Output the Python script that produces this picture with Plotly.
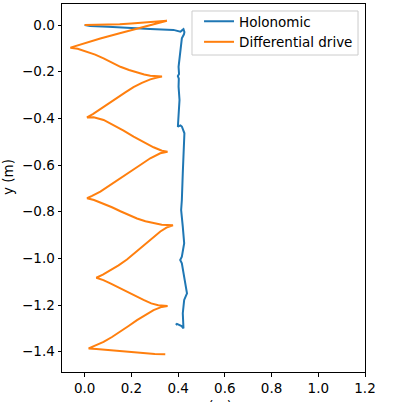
import plotly.graph_objects as go

# Holonomic trajectory (m)
holo_x = [0.0, 0.024, 0.10, 0.167, 0.28, 0.38, 0.41, 0.418, 0.423, 0.427, 0.425, 0.416,
          0.409, 0.402, 0.404, 0.399, 0.403, 0.402, 0.406, 0.402, 0.399, 0.41, 0.416,
          0.427, 0.423, 0.42, 0.416, 0.413, 0.42, 0.426, 0.416, 0.409, 0.416, 0.43,
          0.438, 0.426, 0.42, 0.423, 0.415, 0.395, 0.39]
holo_y = [0.0, -0.004, -0.008, -0.012, -0.017, -0.021, -0.029, -0.022, -0.018, -0.03, -0.04, -0.057,
          -0.107, -0.179, -0.21, -0.219, -0.23, -0.264, -0.321, -0.378, -0.436, -0.43, -0.435,
          -0.464, -0.536, -0.635, -0.75, -0.793, -0.864, -0.935, -0.993, -1.007, -1.021, -1.107,
          -1.15, -1.178, -1.235, -1.3, -1.29, -1.281, -1.285]

# Differential drive trajectory (m)
diff_x = [0.0, 0.05, 0.10, 0.15, 0.20, 0.25, 0.30, 0.352,
          0.32, 0.28, 0.217, 0.15, 0.067, 0.0, -0.035, -0.061,
          -0.03, 0.010, 0.045, 0.081, 0.117, 0.153, 0.19, 0.224, 0.255, 0.281, 0.31, 0.331,
          0.31, 0.281, 0.245, 0.209, 0.174, 0.138, 0.103, 0.067, 0.035, 0.010,
          0.0385, 0.0812, 0.1239, 0.1667, 0.2094, 0.2521, 0.2949, 0.3308, 0.3547,
          0.3235, 0.2808, 0.2380, 0.1953, 0.1526, 0.1098, 0.0671, 0.0316, 0.0103,
          0.04, 0.081, 0.117, 0.153, 0.19, 0.224, 0.26, 0.295, 0.33, 0.378,
          0.35, 0.324, 0.288, 0.252, 0.216, 0.181, 0.145, 0.110, 0.078, 0.050,
          0.08, 0.110, 0.145, 0.181, 0.217, 0.252, 0.285, 0.315, 0.355,
          0.33, 0.295, 0.26, 0.224, 0.188, 0.153, 0.117, 0.081, 0.045, 0.017,
          0.05, 0.110, 0.181, 0.252, 0.30, 0.345]
diff_y = [0.0, 0.0, 0.001, 0.003, 0.006, 0.009, 0.013, 0.018,
          0.010, 0.0, -0.016, -0.035, -0.058, -0.078, -0.089, -0.097,
          -0.102, -0.114, -0.127, -0.143, -0.161, -0.179, -0.193, -0.204, -0.212, -0.217, -0.220, -0.221,
          -0.225, -0.233, -0.248, -0.266, -0.289, -0.313, -0.338, -0.362, -0.382, -0.396,
          -0.3956, -0.4070, -0.4284, -0.4528, -0.4786, -0.5026, -0.5240, -0.5386, -0.5429,
          -0.5497, -0.5711, -0.5998, -0.6285, -0.6568, -0.6855, -0.7142, -0.7326, -0.7425,
          -0.750, -0.765, -0.781, -0.798, -0.815, -0.829, -0.841, -0.850, -0.856, -0.858,
          -0.868, -0.885, -0.915, -0.947, -0.978, -1.005, -1.030, -1.052, -1.070, -1.083,
          -1.093, -1.107, -1.125, -1.143, -1.161, -1.178, -1.193, -1.201, -1.204,
          -1.208, -1.222, -1.242, -1.265, -1.290, -1.314, -1.337, -1.358, -1.375, -1.386,
          -1.388, -1.394, -1.401, -1.407, -1.410, -1.411]

x_ticks = [0.0, 0.2, 0.4, 0.6, 0.8, 1.0, 1.2]
y_ticks = [0.0, -0.2, -0.4, -0.6, -0.8, -1.0, -1.2, -1.4]

FONT = "DejaVu Sans"
FS = 13.5

fig = go.Figure()
fig.add_trace(go.Scatter(x=holo_x, y=holo_y, mode="lines", name="Holonomic",
                         line=dict(color="#1f77b4", width=2)))
fig.add_trace(go.Scatter(x=diff_x, y=diff_y, mode="lines", name="Differential drive",
                         line=dict(color="#ff7f0e", width=2)))

axis_common = dict(showgrid=False, zeroline=False, showline=True, linecolor="black",
                   linewidth=1, mirror=True, ticks="outside", ticklen=3.5,
                   tickcolor="black", tickfont=dict(family=FONT, size=FS, color="black"))

fig.update_layout(
    width=398, height=402,
    margin=dict(l=62, r=33, t=4, b=30),
    paper_bgcolor="white", plot_bgcolor="white",
    font=dict(family=FONT, size=FS, color="black"),
    xaxis=dict(range=[-0.097, 1.2], tickvals=x_ticks,
               ticktext=[f"{v:.1f}" for v in x_ticks], **axis_common),
    yaxis=dict(range=[-1.487, 0.09], tickvals=y_ticks,
               ticktext=[f"{v:.1f}".replace("-", "\u2212") for v in y_ticks], **axis_common),
    legend=dict(x=0.977, y=0.9946, xanchor="right", yanchor="top",
                bgcolor="rgba(0,0,0,0)", borderwidth=0,
                font=dict(family=FONT, size=FS, color="black")),
    showlegend=True,
    shapes=[
        dict(type="rect", xref="paper", yref="paper", x0=0.429, x1=0.977, y0=0.8614, y1=0.981,
             line=dict(color="#cccccc", width=1), fillcolor="rgba(255,255,255,0.8)", layer="above"),
    ],
    annotations=[
        dict(text="x (m)", xref="paper", yref="paper", x=0.5, y=-0.0652,
             xanchor="center", yanchor="top", showarrow=False,
             font=dict(family=FONT, size=FS, color="black")),
        dict(text="y (m)", xref="paper", yref="paper", x=-0.178, y=0.53,
             xanchor="center", yanchor="middle", textangle=-90, showarrow=False,
             font=dict(family=FONT, size=FS, color="black")),
    ],
)

fig.write_html("out.html", config={"displayModeBar": False},
               post_script="document.body.style.margin='0';")
